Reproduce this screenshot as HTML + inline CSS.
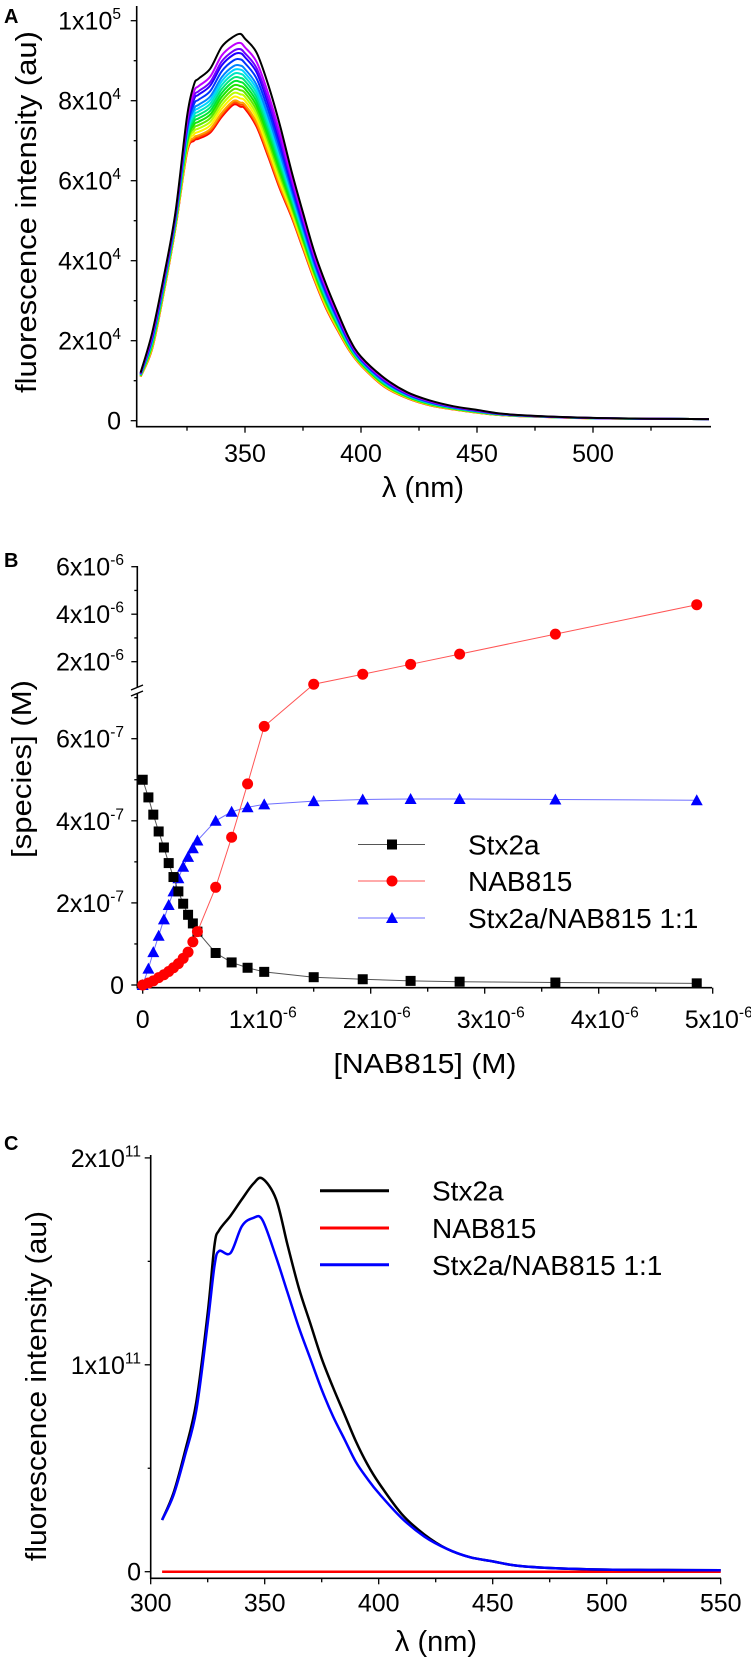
<!DOCTYPE html>
<html><head><meta charset="utf-8"><style>
html,body{margin:0;padding:0;background:#fff;}
svg{display:block;font-family:"Liberation Sans",Arial,sans-serif;}
</style></head><body>
<svg id="fig" width="751" height="1660" viewBox="0 0 751 1660" xmlns="http://www.w3.org/2000/svg">
<text x="4" y="23" font-size="20" font-weight="bold">A</text>
<text x="4" y="567" font-size="20" font-weight="bold">B</text>
<text x="4" y="1150" font-size="20" font-weight="bold">C</text>
<text transform="translate(36,212) rotate(-90)" text-anchor="middle" font-size="29" textLength="362" lengthAdjust="spacingAndGlyphs">fluorescence intensity (au)</text>
<text x="423" y="497" text-anchor="middle" font-size="29">λ (nm)</text>
<text transform="translate(31,769) rotate(-90)" text-anchor="middle" font-size="28" textLength="178" lengthAdjust="spacingAndGlyphs">[species]  (M)</text>
<text x="425" y="1073" text-anchor="middle" font-size="28" textLength="183" lengthAdjust="spacingAndGlyphs">[NAB815] (M)</text>
<text transform="translate(46,1386) rotate(-90)" text-anchor="middle" font-size="29" textLength="350" lengthAdjust="spacingAndGlyphs">fluorescence intensity (au)</text>
<text x="436" y="1651" text-anchor="middle" font-size="29">λ (nm)</text>
</svg>
<script>
// ---------- Panel A data ----------
const aLambda = [305,310,315,320,325,328,330,335,340,345,348,350,355,360,365,370,375,380,385,390,395,400,410,420,430,440,450,460,475,500,525,550];
const aBlack  = [1.2,2.2,3.6,5.2,7.6,8.4,8.55,8.8,9.35,9.6,9.67,9.55,9.2,8.4,7.4,6.25,5.2,4.2,3.4,2.7,2.05,1.6,1.07,0.71,0.5,0.36,0.27,0.18,0.12,0.07,0.05,0.04];
const aRed    = [1.1,1.8,3.2,4.8,6.7,7.0,7.05,7.2,7.6,7.9,7.85,7.8,7.35,6.6,5.8,5.1,4.3,3.5,2.8,2.25,1.75,1.38,0.85,0.56,0.38,0.28,0.2,0.14,0.1,0.06,0.05,0.04];
const aPeaks  = [9.67,9.45,9.3,9.2,9.05,8.9,8.8,8.7,8.6,8.5,8.4,8.3,8.2,8.1,8.0,7.95,7.9];
const aXTicks = [350,400,450,500];
const aYTicks = [0,2,4,6,8,10];
const aYLabels = [["0",""],["2x10","4"],["4x10","4"],["6x10","4"],["8x10","4"],["1x10","5"]];
// ---------- Panel B data ----------
const bConc   = [0,0.05,0.093,0.14,0.186,0.228,0.27,0.313,0.355,0.398,0.44,0.48,0.64,0.78,0.92,1.066,1.5,1.93,2.35,2.78,3.62,4.86];
const bStx    = [5.0,4.57,4.15,3.74,3.35,2.97,2.63,2.28,1.98,1.71,1.50,1.30,0.78,0.55,0.42,0.32,0.19,0.14,0.10,0.08,0.06,0.04];
const bCplx   = [0,0.4,0.8,1.2,1.6,1.95,2.28,2.6,2.88,3.12,3.33,3.52,4.0,4.22,4.33,4.4,4.48,4.52,4.53,4.53,4.52,4.5];
const bNab    = [0,0.05,0.1,0.18,0.25,0.33,0.42,0.52,0.65,0.8,1.05,1.3,2.38,3.6,4.9,6.3,10.5,14.7,18.9,23.2,31.6,44.0];
const bXTicks = [0,1,2,3,4,5];
const bXLabels = [["0",""],["1x10","-6"],["2x10","-6"],["3x10","-6"],["4x10","-6"],["5x10","-6"]];
const bYLowTicks = [0,2,4,6];
const bYLowLabels = [["0",""],["2x10","-7"],["4x10","-7"],["6x10","-7"]];
const bYUpTicks = [2,4,6];
const bYUpLabels = [["2x10","-6"],["4x10","-6"],["6x10","-6"]];
// ---------- Panel C data ----------
const cLambda = [305,310,315,320,325,328,330,335,340,345,349,355,360,365,370,375,380,385,390,395,400,410,420,430,440,450,460,475,500,525,550];
const cStx    = [0.25,0.38,0.58,0.82,1.25,1.58,1.65,1.72,1.8,1.875,1.9,1.8,1.58,1.37,1.2,1.03,0.89,0.76,0.63,0.52,0.43,0.28,0.18,0.11,0.07,0.05,0.03,0.018,0.01,0.008,0.007];
const cCplx   = [0.25,0.37,0.56,0.78,1.2,1.48,1.55,1.54,1.67,1.71,1.7,1.52,1.35,1.18,1.03,0.88,0.75,0.64,0.53,0.45,0.38,0.26,0.17,0.11,0.07,0.05,0.03,0.018,0.01,0.008,0.007];
const cNab    = [0,0,0,0,0,0,0,0,0,0,0,0,0,0,0,0,0,0,0,0,0,0,0,0,0,0,0,0,0,0,0];
const cXTicks = [300,350,400,450,500,550];
const cYTicks = [0,1,2];
const cYLabels = [["0",""],["1x10","11"],["2x10","11"]];

const NS='http://www.w3.org/2000/svg';
const svg=document.getElementById('fig');
function mk(tag, attrs){const e=document.createElementNS(NS,tag);for(const k in attrs)e.setAttribute(k,attrs[k]);svg.appendChild(e);return e;}
function supLabel(x,y,main,sup,anchor,fs){
  const t=mk('text',{x:x,y:y,'text-anchor':anchor,'font-size':fs});
  t.appendChild(document.createTextNode(main));
  if(sup){const s=document.createElementNS(NS,'tspan');s.setAttribute('dy',-fs*0.42);s.setAttribute('font-size',fs*0.62);s.textContent=sup;t.appendChild(s);}
  return t;
}
function pathFrom(xs,ys,fx,fy){return xs.map((v,i)=>(i?'L':'M')+fx(v).toFixed(2)+','+fy(ys[i]).toFixed(2)).join(' ');}
function smoothFrom(xs,ys,fx,fy){
  const P=xs.map((v,i)=>[fx(v),fy(ys[i])]);
  let d='M'+P[0][0].toFixed(2)+','+P[0][1].toFixed(2);
  for(let i=0;i<P.length-1;i++){
    const p0=P[i-1]||P[i],p1=P[i],p2=P[i+1],p3=P[i+2]||p2;
    const c1=[p1[0]+(p2[0]-p0[0])/6,p1[1]+(p2[1]-p0[1])/6];
    const c2=[p2[0]-(p3[0]-p1[0])/6,p2[1]-(p3[1]-p1[1])/6];
    d+=' C'+c1[0].toFixed(2)+','+c1[1].toFixed(2)+' '+c2[0].toFixed(2)+','+c2[1].toFixed(2)+' '+p2[0].toFixed(2)+','+p2[1].toFixed(2);
  }
  return d;
}

// ===== Panel A =====
const xA=l=>245+(l-350)*2.32, yA=v=>420.7-v*40;
let e;
e=mk('line',{x1:136.7,y1:6,x2:136.7,y2:427.5,stroke:'#000','stroke-width':1.6});


e=mk('line',{x1:136,y1:426.7,x2:711,y2:426.7,stroke:'#000','stroke-width':1.6});


for(let v=0;v<=10;v++){const y=yA(v);e=mk('line',{x1:136.7-(v%2?3:6),y1:y,x2:136.7,y2:y,stroke:'#000','stroke-width':1.3});

}
aYTicks.forEach((v,i)=>{e=supLabel(121,yA(v)+9,aYLabels[i][0],aYLabels[i][1],'end',25);

});
for(let l=325;l<=525;l+=25){e=mk('line',{x1:xA(l),y1:426.7,x2:xA(l),y2:426.7+(l%50?4:6),stroke:'#000','stroke-width':1.3});

}
aXTicks.forEach(l=>{e=supLabel(xA(l),462,String(l),'','middle',25);

});
const bk=aPeaks[0], rd=aPeaks[aPeaks.length-1];
for(let k=aPeaks.length-1;k>=0;k--){
  const w=(bk-aPeaks[k])/(bk-rd);
  const ys=aBlack.map((b,i)=>b*(1-w)+aRed[i]*w);
  const col=k===0?'#000':'hsl('+Math.round(285*(1-(k-1)/(aPeaks.length-2)))+',100%,'+(k>6&&k<12?45:50)+'%)';
  e=mk('path',{d:smoothFrom(aLambda,ys,xA,yA),fill:'none',stroke:col,'stroke-width':2,'stroke-linejoin':'round'});
  
  
}

// ===== Panel B =====
const xB=v=>142.7+v*114;
const yB=v=>v<=8?985-v*41.05:709.2-(v/10)*23.75;
e=mk('line',{x1:137.3,y1:985+3,x2:137.3,y2:693,stroke:'#000','stroke-width':1.6});


e=mk('line',{x1:137.3,y1:687,x2:137.3,y2:566,stroke:'#000','stroke-width':1.6});


e=mk('path',{d:'M131,690 L143,685 M131,696 L143,691',stroke:'#000','stroke-width':1.4,fill:'none'});


e=mk('line',{x1:136.5,y1:987.7,x2:712,y2:987.7,stroke:'#000','stroke-width':1.6});


for(let v=0;v<=7;v++){const y=yB(v);e=mk('line',{x1:137.3-(v%2?3:6),y1:y,x2:137.3,y2:y,stroke:'#000','stroke-width':1.3});

}
for(let v=20;v<=60;v+=10){const y=yB(v);e=mk('line',{x1:137.3-(v%20?3:6),y1:y,x2:137.3,y2:y,stroke:'#000','stroke-width':1.3});

}
bYLowTicks.forEach((v,i)=>{e=supLabel(124,yB(v)+9,bYLowLabels[i][0],bYLowLabels[i][1],'end',25);

});
bYUpTicks.forEach((v,i)=>{e=supLabel(124,yB(v*10)+9,bYUpLabels[i][0],bYUpLabels[i][1],'end',25);

});
for(let v=0;v<=5;v+=0.5){e=mk('line',{x1:xB(v),y1:987.7,x2:xB(v),y2:987.7+(v%1?4:6),stroke:'#000','stroke-width':1.3});

}
bXTicks.forEach((v,i)=>{e=supLabel(xB(v)+(i?6:0),1028,bXLabels[i][0],bXLabels[i][1],'middle',25);

});
function series(vals,col,lineCol,name,shape){
  e=mk('path',{d:pathFrom(bConc,vals,xB,yB),fill:'none',stroke:lineCol,'stroke-width':1});
  
  
  bConc.forEach((c,i)=>{
    const x=xB(c),y=yB(vals[i]);
    if(shape==='sq') e=mk('rect',{x:x-5,y:y-5,width:10,height:10,fill:col});
    else if(shape==='ci') e=mk('circle',{cx:x,cy:y,r:5.5,fill:col});
    else e=mk('path',{d:`M${x},${y-6} L${x+6},${y+5} L${x-6},${y+5} Z`,fill:col});
    
    
  });
}
series(bCplx,'#0000ff','#6f6fff','complex','tr');
series(bStx,'#000','#555','stx2a','sq');
series(bNab,'#ff0000','#ff5555','nab815','ci');
const bLeg=[['Stx2a','#000','#555','sq',844.5],['NAB815','#ff0000','#ff5555','ci',881],['Stx2a/NAB815 1:1','#0000ff','#6f6fff','tr',918]];
bLeg.forEach(L=>{
  e=mk('line',{x1:358,y1:L[4],x2:425,y2:L[4],stroke:L[2],'stroke-width':1});
  
  
  const x=392,y=L[4];
  if(L[3]==='sq') e=mk('rect',{x:x-5,y:y-5,width:10,height:10,fill:L[1]});
  else if(L[3]==='ci') e=mk('circle',{cx:x,cy:y,r:5.5,fill:L[1]});
  else e=mk('path',{d:`M${x},${y-6} L${x+6},${y+5} L${x-6},${y+5} Z`,fill:L[1]});
  
  
  e=mk('text',{x:468,y:L[4]+10,'font-size':28});
  e.textContent=L[0];
  
  
});

// ===== Panel C =====
const xC=l=>150.7+(l-300)*2.28, yC=v=>1571.7-v*206.9;
e=mk('line',{x1:150.7,y1:1155,x2:150.7,y2:1579,stroke:'#000','stroke-width':1.6});


e=mk('line',{x1:150,y1:1578.3,x2:721,y2:1578.3,stroke:'#000','stroke-width':1.6});


for(let v=0;v<=2;v+=0.5){const y=yC(v);e=mk('line',{x1:150.7-(v%1?3:6),y1:y,x2:150.7,y2:y,stroke:'#000','stroke-width':1.3});

}
cYTicks.forEach((v,i)=>{e=supLabel(141,yC(v)+9,cYLabels[i][0],cYLabels[i][1],'end',25);

});
for(let l=300;l<=550;l+=25){e=mk('line',{x1:xC(l),y1:1578.3,x2:xC(l),y2:1578.3+(l%50?4:6),stroke:'#000','stroke-width':1.3});

}
cXTicks.forEach(l=>{e=supLabel(xC(l),1611.7,String(l),'','middle',25);

});
e=mk('path',{d:pathFrom(cLambda,cNab,xC,yC),fill:'none',stroke:'#ff0000','stroke-width':2.5});


e=mk('path',{d:smoothFrom(cLambda,cStx,xC,yC),fill:'none',stroke:'#000','stroke-width':2.5,'stroke-linejoin':'round'});


e=mk('path',{d:smoothFrom(cLambda,cCplx,xC,yC),fill:'none',stroke:'#0000ff','stroke-width':2.5,'stroke-linejoin':'round'});


const cLeg=[['Stx2a','#000',1190.7],['NAB815','#ff0000',1228],['Stx2a/NAB815 1:1','#0000ff',1264.8]];
cLeg.forEach(L=>{
  e=mk('line',{x1:320,y1:L[2],x2:389,y2:L[2],stroke:L[1],'stroke-width':3});
  
  
  e=mk('text',{x:432,y:L[2]+10,'font-size':28});
  e.textContent=L[0];
  
  
});
</script>
</body></html>
